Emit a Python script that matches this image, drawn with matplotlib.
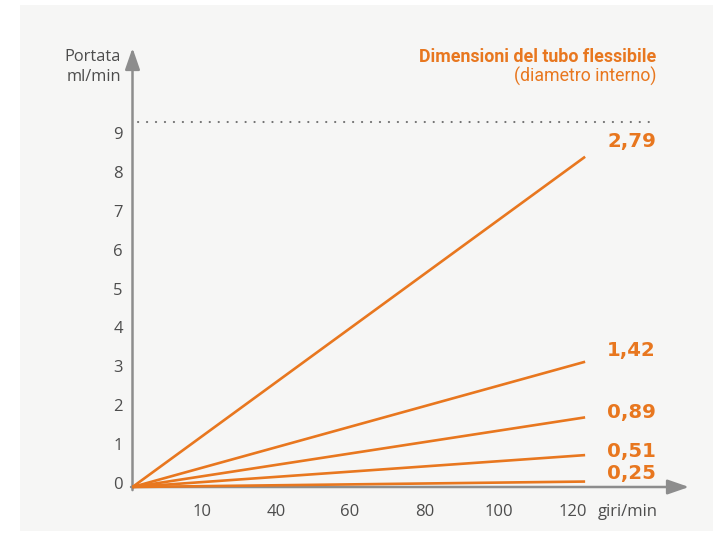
import numpy as np
import matplotlib
matplotlib.use("Agg")
import matplotlib.pyplot as plt
import matplotlib.transforms as mtransforms
from matplotlib.patches import Rectangle

# --- data ---
sizes = ["2,79", "1,42", "0,89", "0,51", "0,25"]        # inner tube diameter labels
flow_end = [8.49, 3.22, 1.79, 0.82, 0.14]               # ml/min at the end of each line
rpm_end = 122                                          # x value where the lines stop
x_ticks = [20, 40, 60, 80, 100, 120]
x_ticklabels = ["10", "40", "60", "80", "100", "120"]
y_ticks = list(range(10))
max_line = 9.38                                        # dotted reference level

ORANGE = "#E8771F"
AXGRAY = "#8d8d8d"
TXT = "#4d4d4d"
FONT = ["Open Sans", "DejaVu Sans"]

W, H = 713, 544
fig = plt.figure(figsize=(W / 100, H / 100), dpi=100, facecolor="white")
fig.patches.append(Rectangle((20 / W, (H - 531) / H), (W - 20) / W, (531 - 5) / H,
                             transform=fig.transFigure, facecolor="#f6f6f5",
                             edgecolor="none", zorder=-10))

# axes placed so that (0,0) sits at pixel (132.5, 487)
px_x, px_y = 3.71, 38.9
ax = fig.add_axes([132.5 / W, (H - 487) / H, (700 - 132.5) / W, (487 - 40) / H])
ax.set_zorder(1)
ax.set_xlim(0, (700 - 132.5) / px_x)
ax.set_ylim(0, (487 - 40) / px_y)
ax.patch.set_visible(False)
for s in ax.spines.values():
    s.set_visible(False)

# axes with arrows
ax.annotate("", xy=((689 - 132.5) / px_x, 0), xytext=(-0.4, 0),
            arrowprops=dict(arrowstyle="-|>,head_length=1.3,head_width=0.45", color=AXGRAY,
                            lw=1.8, shrinkA=0, shrinkB=0, mutation_scale=10),
            annotation_clip=False, zorder=2)
ax.annotate("", xy=(0, (487 - 48) / px_y), xytext=(0, -0.08),
            arrowprops=dict(arrowstyle="-|>,head_length=1.3,head_width=0.45", color=AXGRAY,
                            lw=1.8, shrinkA=0, shrinkB=0, mutation_scale=10),
            annotation_clip=False, zorder=2)

# dotted max level
ax.plot([1.5, (657 - 132.5) / px_x], [max_line, max_line], linestyle=(0, (0.1, 4.2)),
        color="#707070", lw=1.5, dash_capstyle="round", zorder=2, clip_on=False)

# flow lines + labels
label_dy = [15, 11, 5, 4, 8]   # pixel nudges of the size labels above the line ends
for lab, yend, dy in zip(sizes, flow_end, label_dy):
    ax.plot([0, rpm_end], [0, yend], color=ORANGE, lw=1.9, solid_capstyle="butt", zorder=3,
            clip_on=False)
    ax.annotate(lab, xy=(rpm_end, yend), xytext=(22, dy), textcoords="offset pixels",
                ha="left", va="center", color=ORANGE, fontsize=14.2, fontweight="bold",
                family="DejaVu Sans", annotation_clip=False)

# ticks
ax.set_xticks(x_ticks)
ax.set_xticklabels(x_ticklabels)
ax.set_yticks(y_ticks)
ax.set_yticklabels([str(v) for v in y_ticks])
ax.tick_params(length=0, colors=TXT, labelsize=12)
ax.tick_params(axis="y", pad=7)
ax.tick_params(axis="x", pad=12)
for t in ax.get_xticklabels() + ax.get_yticklabels():
    t.set_family(FONT)
offx = mtransforms.ScaledTranslation(-0.05, 0, fig.dpi_scale_trans)
offy = mtransforms.ScaledTranslation(0, 0.04, fig.dpi_scale_trans)
for t in ax.get_xticklabels():
    t.set_transform(t.get_transform() + offx)
for t in ax.get_yticklabels():
    t.set_transform(t.get_transform() + offy)

# axis titles
fig.text(121 / W, 1 - 57 / H, "Portata", ha="right", va="center", color=TXT,
         fontsize=11.8, family=FONT)
fig.text(121 / W, 1 - 77 / H, "ml/min", ha="right", va="center", color=TXT,
         fontsize=11.8, family=FONT)
fig.text(598 / W, 1 - 512 / H, "giri/min", ha="left", va="center", color=TXT,
         fontsize=12, family=FONT)

# legend-like heading
fig.text(656 / W, 1 - 57 / H, "Dimensioni del tubo flessibile", ha="right", va="center",
         color=ORANGE, fontsize=12.8, fontweight="bold", family=["Roboto", "DejaVu Sans"])
fig.text(656 / W, 1 - 76 / H, "(diametro interno)", ha="right", va="center",
         color=ORANGE, fontsize=12.8, family=["Roboto", "DejaVu Sans"])

fig.savefig("out.png", dpi=100, facecolor="white")
